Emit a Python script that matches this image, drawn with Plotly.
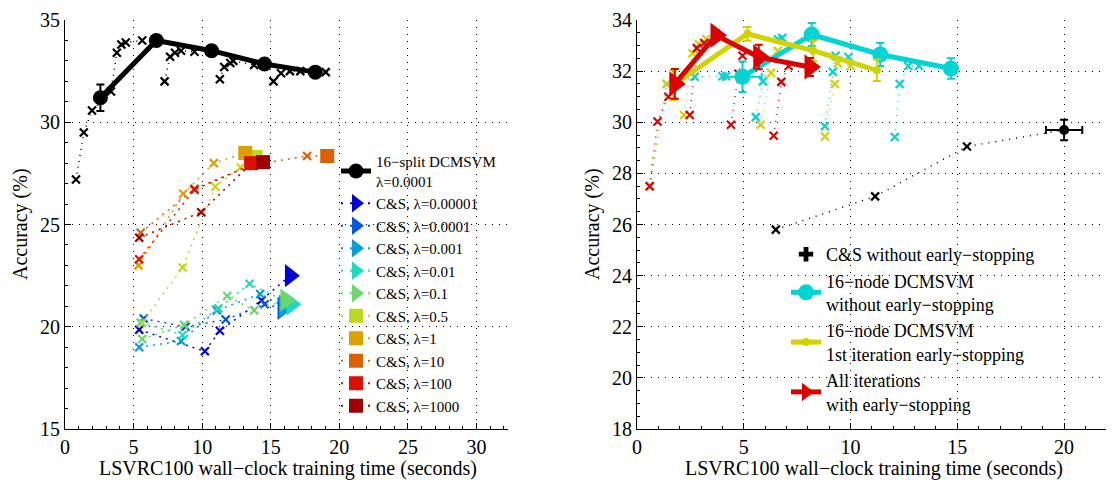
import plotly.graph_objects as go

W, H = 1114, 487
SERIF = "Liberation Serif"

# ---------------- LEFT PANEL DATA ----------------
dcm_time = [2.58, 6.66, 10.69, 14.55, 18.25]
dcm_acc = [31.2, 34.0, 33.5, 32.85, 32.45]
dcm_err = [0.65, 0.15, 0.15, 0.15, 0.15]

dcm_iter_time = [0.8, 1.37, 1.97, 3.35, 3.78, 4.11, 4.43, 5.63, None,
                 7.26, 7.66, 8.02, 8.46, 9.44, None,
                 11.29, 11.61, 12.05, 12.27, 13.79, None,
                 15.2, 15.75, 16.4, 17.16, 19.01]
dcm_iter_acc = [27.2, 29.5, 30.57, 31.5, 33.4, 33.8, 33.9, 34.0, None,
                32.0, 33.2, 33.4, 33.5, 33.45, None,
                32.1, 32.7, 32.9, 33.0, 32.8, None,
                32.0, 32.4, 32.5, 32.5, 32.45]

cs_lambda = ["0.00001", "0.0001", "0.001", "0.01", "0.1", "0.5", "1", "10", "100", "1000"]
cs_colors = ["#0000D8", "#0058E0", "#00A0DC", "#1ED8C0", "#6CD86C",
             "#BCD820", "#DCA000", "#DC6000", "#DC1000", "#A00000"]
cs_symbols = ["triangle-right"] * 5 + ["square"] * 5
cs_time = [
    [5.41, 10.2, 11.29, 14.33],
    [5.74, 8.79, 11.72, 14.55],
    [5.41, 8.46, 11.07, 14.23],
    [5.52, 8.57, 11.18, 13.46],
    [5.63, 8.68, 11.83, 13.79],
    [5.63, 8.57, 10.96, 12.81],
    [5.36, 8.62, 10.85],
    [5.52, 9.44, 13.57, 17.65],
    [5.41, 9.44, 13.57],
    [5.41, 9.93, 13.68],
]
cs_acc = [
    [19.85, 18.8, 19.8, 21.3],
    [20.4, 20.0, 20.35, 21.1],
    [19.0, 19.3, 20.8, 21.6],
    [20.2, 19.6, 20.9, 22.1],
    [19.4, 20.1, 21.5, 20.8],
    [20.2, 22.9, 26.85, 27.8],
    [23.0, 26.5, 28.0],
    [24.6, 26.75, 27.9, 28.35],
    [23.3, 26.7, 27.9],
    [24.35, 25.6, 28.05],
]
cs_final_time = [16.4, 15.86, 15.97, 16.51, 16.07, 13.9, 13.14, 19.12, 13.57, 14.44]
cs_final_acc = [22.5, 20.9, 21.0, 21.1, 21.3, 28.3, 28.5, 28.35, 28.0, 28.05]

# ---------------- RIGHT PANEL DATA ----------------
noes_time = [6.5, 11.15, 15.45]
noes_acc = [25.8, 27.1, 29.05]
noes_final_time = [20.0]
noes_final_acc = [29.7]
noes_final_ex = [0.85]
noes_final_ey = [0.4]

cyan_time = [4.94, 8.18, 11.39, 14.7]
cyan_acc = [31.78, 33.43, 32.65, 32.1]
cyan_ey = [0.6, 0.45, 0.45, 0.4]
cyan_ex = [0.9, 0.0, 0.0, 0.0]
cyan_iter_time = [0.6, 1.39, 2.7, 4.0, 4.17, None, 5.56, 5.9, 6.6, 6.8, None,
                  8.8, 9.17, 9.3, 9.9, None, 12.07, 12.3, 12.7, 13.2]
cyan_iter_acc = [27.5, 31.5, 31.78, 31.8, 31.8, None, 30.2, 31.6, 33.25, 33.3, None,
                 29.84, 31.97, 32.6, 32.55, None, 29.42, 31.5, 32.2, 32.2]

yel_time = [1.7, 5.17, 8.25, 11.23]
yel_acc = [31.45, 33.46, 32.8, 32.03]
yel_ey = [0.58, 0.27, 0.4, 0.42]
yel_iter_time = [0.6, 1.39, None, 2.2, 2.6, 2.9, 3.25, None,
                 5.79, 6.28, 6.6, None, 8.8, 9.26, 9.4, 10.0]
yel_iter_acc = [27.5, 31.5, None, 30.28, 32.7, 33.05, 33.26, None,
                29.9, 31.93, 32.8, None, 29.44, 31.5, 32.3, 32.2]

red_time = [1.77, 3.7, 5.7, 8.1]
red_acc = [31.5, 33.4, 32.55, 32.16]
red_ey = [0.58, 0.2, 0.48, 0.35]
red_iter_time = [0.59, 0.96, 1.47, None, 2.47, 2.8, 3.15, None,
                 4.4, 4.75, 4.94, None, 6.4, 6.76, 7.1]
red_iter_acc = [27.5, 30.03, 31.0, None, 30.28, 32.9, 33.1, None,
                29.9, 31.9, 32.6, None, 29.47, 31.58, 32.2]

CYAN = "#00D4D4"
YEL = "#D2D200"
RED = "#DC0000"

fig = go.Figure()

def xmark(color):
    return dict(symbol="x-thin", size=8, line=dict(width=2.2, color=color), color=color)

# ---- left panel ----
fig.add_trace(go.Scatter(x=dcm_iter_time, y=dcm_iter_acc, mode="lines+markers",
                         line=dict(color="black", width=1.5, dash="1px,5px"),
                         marker=xmark("black"), showlegend=False, connectgaps=False,
                         xaxis="x", yaxis="y"))
for i in range(len(cs_lambda)):
    fig.add_trace(go.Scatter(x=cs_time[i] + [cs_final_time[i]], y=cs_acc[i] + [cs_final_acc[i]],
                             mode="lines", line=dict(color=cs_colors[i], width=1.5, dash="2px,5px"),
                             showlegend=False, xaxis="x", yaxis="y"))
    fig.add_trace(go.Scatter(x=cs_time[i], y=cs_acc[i], mode="markers",
                             marker=xmark(cs_colors[i]), showlegend=False, xaxis="x", yaxis="y"))

fig.add_trace(go.Scatter(x=dcm_time, y=dcm_acc, mode="lines+markers",
                         name="16−split DCMSVM<br>λ=0.0001",
                         line=dict(color="black", width=5),
                         marker=dict(symbol="circle", size=15, color="black"),
                         error_y=dict(type="data", array=dcm_err, color="black", thickness=2, width=4),
                         legend="legend", xaxis="x", yaxis="y"))
for i in range(len(cs_lambda)):
    fig.add_trace(go.Scatter(x=[cs_final_time[i]], y=[cs_final_acc[i]], mode="lines+markers",
                             name="C&S, λ=" + cs_lambda[i],
                             line=dict(color=cs_colors[i], width=2, dash="2px,7px"),
                             marker=dict(symbol=cs_symbols[i],
                                         size=20 if cs_symbols[i] == "triangle-right" else 14,
                                         color=cs_colors[i]),
                             legend="legend", xaxis="x", yaxis="y"))

# ---- right panel ----
fig.add_trace(go.Scatter(x=noes_time + noes_final_time, y=noes_acc + noes_final_acc, mode="lines",
                         line=dict(color="black", width=1.5, dash="1px,6px"),
                         showlegend=False, xaxis="x2", yaxis="y2"))
fig.add_trace(go.Scatter(x=noes_time, y=noes_acc, mode="markers", marker=xmark("black"),
                         showlegend=False, xaxis="x2", yaxis="y2"))
fig.add_trace(go.Scatter(x=noes_final_time, y=noes_final_acc, mode="markers",
                         marker=dict(symbol="circle", size=10, color="black"),
                         error_x=dict(type="data", array=noes_final_ex, color="black", thickness=2, width=4),
                         error_y=dict(type="data", array=noes_final_ey, color="black", thickness=2, width=4),
                         showlegend=False, xaxis="x2", yaxis="y2"))

for it_t, it_a, col in [(cyan_iter_time, cyan_iter_acc, CYAN),
                        (yel_iter_time, yel_iter_acc, YEL),
                        (red_iter_time, red_iter_acc, RED)]:
    fig.add_trace(go.Scatter(x=it_t, y=it_a, mode="lines+markers",
                             line=dict(color=col, width=1.5, dash="1px,6px"),
                             marker=xmark(col), showlegend=False, connectgaps=False,
                             xaxis="x2", yaxis="y2"))

fig.add_trace(go.Scatter(x=[None], y=[None], mode="markers", name="C&S without early−stopping",
                         marker=dict(symbol="cross", size=12, color="black"),
                         legend="legend2", xaxis="x2", yaxis="y2"))
fig.add_trace(go.Scatter(x=cyan_time, y=cyan_acc, mode="lines+markers",
                         name="16−node DCMSVM<br>without early−stopping",
                         line=dict(color=CYAN, width=5),
                         marker=dict(symbol="circle", size=16, color=CYAN),
                         error_y=dict(type="data", array=cyan_ey, color=CYAN, thickness=2, width=4),
                         error_x=dict(type="data", array=cyan_ex, color=CYAN, thickness=2, width=4),
                         legend="legend2", xaxis="x2", yaxis="y2"))
fig.add_trace(go.Scatter(x=yel_time, y=yel_acc, mode="lines+markers",
                         name="16−node DCMSVM<br>1st iteration early−stopping",
                         line=dict(color=YEL, width=5),
                         marker=dict(symbol="circle", size=8, color=YEL),
                         error_y=dict(type="data", array=yel_ey, color=YEL, thickness=2, width=4),
                         legend="legend2", xaxis="x2", yaxis="y2"))
fig.add_trace(go.Scatter(x=red_time, y=red_acc, mode="lines+markers",
                         name="All iterations<br>with early−stopping",
                         line=dict(color=RED, width=5),
                         marker=dict(symbol="triangle-right", size=22, color=RED),
                         error_y=dict(type="data", array=red_ey, color=RED, thickness=2, width=4),
                         legend="legend2", xaxis="x2", yaxis="y2"))

def px_x(p):
    return p / W

def px_y(p):
    return 1 - p / H

TOP, BOT = 12, 421

grid = dict(showgrid=True, gridcolor="black", gridwidth=1, griddash="1px,6px", zeroline=False,
            showline=True, linecolor="black", linewidth=1, ticks="inside", ticklen=6,
            tickcolor="black", tickfont=dict(family=SERIF, size=20, color="black"),
            ticklabeloverflow="allow", mirror=False, automargin=False)
minor1 = dict(ticks="inside", ticklen=3, dtick=1, tickcolor="black", showgrid=False)

fig.update_layout(
    width=W, height=H, margin=dict(l=0, r=0, t=0, b=0, autoexpand=False),
    paper_bgcolor="white", plot_bgcolor="white",
    font=dict(family=SERIF, color="black"),
    xaxis=dict(domain=[px_x(57), px_x(500)], range=[0, 32.3], tickvals=[0, 5, 10, 15, 20, 25, 30],
               minor=minor1, anchor="y", **grid),
    yaxis=dict(domain=[px_y(BOT), px_y(TOP)], range=[15, 35], tickvals=[15, 20, 25, 30, 35],
               minor=minor1, anchor="x", **grid),
    xaxis2=dict(domain=[px_x(629), px_x(1108)], range=[0, 22.43], tickvals=[0, 5, 10, 15, 20],
                minor=minor1, anchor="y2", **grid),
    yaxis2=dict(domain=[px_y(BOT), px_y(TOP)], range=[18, 34], tickvals=list(range(18, 35, 2)),
                minor=dict(ticks="inside", ticklen=3, dtick=0.5, tickcolor="black", showgrid=False),
                anchor="x2", **grid),
    legend=dict(x=px_x(328), y=px_y(137), xanchor="left", yanchor="top",
                bgcolor="rgba(0,0,0,0)", borderwidth=0,
                font=dict(family=SERIF, size=15, color="black"), tracegroupgap=0),
    legend2=dict(x=px_x(778), y=px_y(228), xanchor="left", yanchor="top",
                 bgcolor="rgba(0,0,0,0)", borderwidth=0,
                 font=dict(family=SERIF, size=18, color="black"), tracegroupgap=0),
    annotations=[
        dict(text="LSVRC100 wall−clock training time (seconds)", x=px_x(280), y=px_y(460),
             xanchor="center", yanchor="middle",
             xref="paper", yref="paper", showarrow=False, font=dict(family=SERIF, size=20)),
        dict(text="LSVRC100 wall−clock training time (seconds)", x=px_x(866), y=px_y(460),
             xanchor="center", yanchor="middle",
             xref="paper", yref="paper", showarrow=False, font=dict(family=SERIF, size=20)),
        dict(text="Accuracy (%)", x=px_x(12), y=px_y(216), textangle=-90,
             xanchor="center", yanchor="middle",
             xref="paper", yref="paper", showarrow=False, font=dict(family=SERIF, size=20)),
        dict(text="Accuracy (%)", x=px_x(584), y=px_y(216), textangle=-90,
             xanchor="center", yanchor="middle",
             xref="paper", yref="paper", showarrow=False, font=dict(family=SERIF, size=20)),
    ],
)

fig.write_html("out.html")
